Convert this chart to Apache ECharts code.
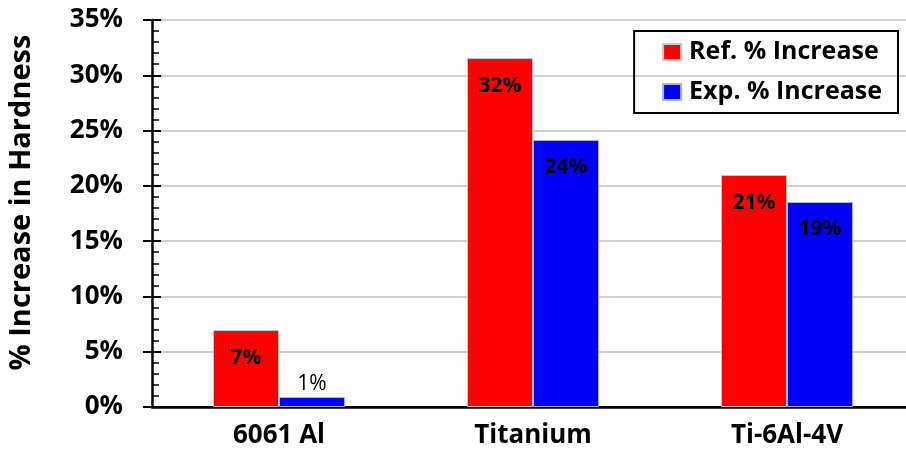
<!DOCTYPE html>
<html>
<head>
<meta charset="utf-8">
<script src="https://cdn.jsdelivr.net/npm/echarts@6/dist/echarts.min.js"></script>
<style>
  html, body { margin: 0; padding: 0; background: #fff; }
  #chart { width: 906px; height: 450px; }
</style>
</head>
<body>
<div id="chart"></div>
<script>
var categories = ['6061 Al', 'Titanium', 'Ti-6Al-4V'];
var refIncrease = [6.96, 31.56, 20.98];
var expIncrease = [0.9, 24.15, 18.54];
var seriesNames = ['Ref. % Increase', 'Exp. % Increase'];

var font = 'Open Sans';

function pct(p) {
  return Math.round(p.value) + '%';
}

// small bars get their label above the bar
function withLabels(values) {
  return values.map(function (v) {
    if (v < 3) {
      return { value: v, label: { position: 'top', distance: 3, fontWeight: 'normal' } };
    }
    return v;
  });
}

var option = {
  animation: false,
  textStyle: { fontFamily: font },
  grid: { left: 152, top: 20, width: 762, height: 387, outerBoundsMode: 'none' },
  legend: {
    data: seriesNames,
    orient: 'vertical',
    right: 8,
    top: 31,
    padding: [8, 16, 8, 28],
    itemGap: 14,
    itemWidth: 18,
    itemHeight: 16,
    borderColor: '#000',
    borderWidth: 2,
    borderRadius: 0,
    icon: 'rect',
    textStyle: {
      fontSize: 25, fontWeight: 'bold', color: '#000', fontFamily: font,
      lineHeight: 26, padding: [0, 0, 0, 3]
    }
  },
  xAxis: [{
    type: 'category',
    data: categories,
    axisLine: { lineStyle: { color: '#000', width: 2.5 } },
    axisTick: { show: false },
    axisLabel: { fontSize: 26, fontWeight: 'bold', color: '#000', margin: 16 }
  }, {
    type: 'category',
    position: 'top',
    data: categories,
    axisLine: { lineStyle: { color: '#000', width: 2 } },
    axisTick: { show: false },
    axisLabel: { show: false }
  }],
  yAxis: [{
    type: 'value',
    min: 0,
    max: 35,
    interval: 5,
    name: '% Increase in Hardness',
    nameLocation: 'middle',
    nameGap: 116,
    nameTextStyle: {
      fontSize: 29, fontWeight: 'bold', color: '#000', fontFamily: font,
      padding: [0, 0, 0, 22]
    },
    axisLine: { show: true, lineStyle: { color: '#000', width: 2.5 } },
    axisTick: { show: true, length: 9, lineStyle: { color: '#000', width: 2 } },
    axisLabel: {
      fontSize: 26, fontWeight: 'bold', color: '#000', margin: 29,
      formatter: '{value}%'
    },
    splitLine: { lineStyle: { color: '#d0d0d0', width: 2 } }
  }, {
    type: 'value',
    position: 'left',
    min: 0,
    max: 35,
    interval: 5,
    axisLine: { show: false },
    axisTick: { show: true, inside: true, length: 9, lineStyle: { color: '#000', width: 2 } },
    minorTick: { show: true, splitNumber: 5, length: 7, lineStyle: { color: '#000', width: 1.5 } },
    axisLabel: { show: false },
    splitLine: { show: false }
  }],
  series: [{
    name: seriesNames[0],
    type: 'bar',
    data: withLabels(refIncrease),
    barWidth: 66,
    barGap: '0%',
    itemStyle: { color: '#ff0000', borderColor: '#c8c8c8', borderWidth: 1 },
    label: {
      show: true, position: 'insideTop', distance: 17, formatter: pct,
      fontSize: 21, fontWeight: 'bold', color: '#000'
    }
  }, {
    name: seriesNames[1],
    type: 'bar',
    data: withLabels(expIncrease),
    barWidth: 66,
    barGap: '0%',
    itemStyle: { color: '#0000ff', borderColor: '#b0b0e0', borderWidth: 1 },
    label: {
      show: true, position: 'insideTop', distance: 17, formatter: pct,
      fontSize: 21, fontWeight: 'bold', color: '#000'
    }
  }]
};

var chart = echarts.init(document.getElementById('chart'));
chart.setOption(option);
</script>
</body>
</html>
